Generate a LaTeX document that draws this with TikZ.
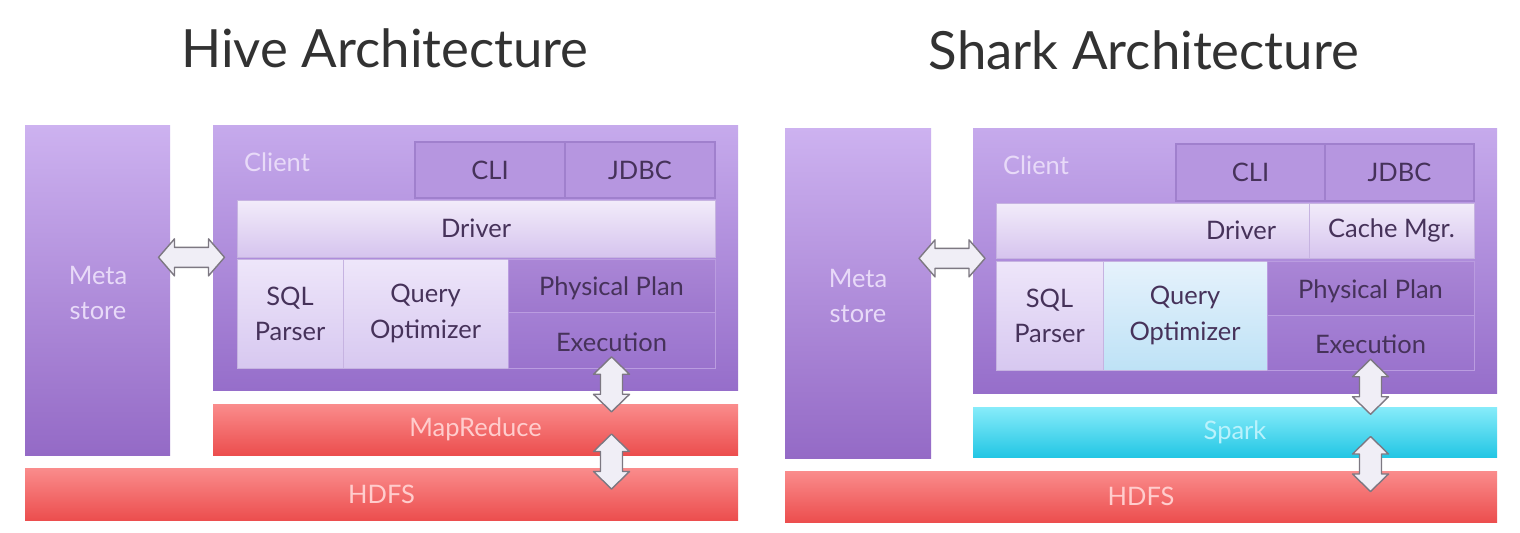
\documentclass[tikz,border=0pt]{standalone}
\usepackage{fontspec}
\setmainfont{Lato}
\usetikzlibrary{fit,shadings,calc}
\definecolor{cltop}{RGB}{198,170,236}
\definecolor{clbot}{RGB}{150,110,202}
\definecolor{mstop}{RGB}{205,178,240}
\definecolor{msbot}{RGB}{148,106,198}
\definecolor{clibox}{RGB}{182,150,224}
\definecolor{cliedge}{RGB}{160,128,205}
\definecolor{drtop}{RGB}{242,236,250}
\definecolor{drbot}{RGB}{214,196,238}
\definecolor{sqtop}{RGB}{238,230,250}
\definecolor{sqbot}{RGB}{215,200,240}
\definecolor{qotop}{RGB}{230,242,252}
\definecolor{qobot}{RGB}{190,226,246}
\definecolor{pptop}{RGB}{170,134,214}
\definecolor{ppbot}{RGB}{158,120,206}
\definecolor{ppedge}{RGB}{186,156,224}
\definecolor{rdtop}{RGB}{250,140,140}
\definecolor{rdbot}{RGB}{236,78,78}
\definecolor{cytop}{RGB}{135,236,250}
\definecolor{cybot}{RGB}{35,198,228}
\definecolor{txtdark}{RGB}{70,50,90}
\definecolor{txtlav}{RGB}{232,218,248}
\definecolor{txtpink}{RGB}{255,205,205}
\definecolor{txtcyan}{RGB}{185,242,252}
\definecolor{arfill}{RGB}{240,238,246}
\definecolor{aredge}{RGB}{125,120,130}
\definecolor{titlec}{RGB}{50,50,50}
\begin{document}
\begin{tikzpicture}[x=0.02cm,y=-0.02cm,
  blk/.style={inner sep=0pt, draw=none},
  lbl/.style={inner sep=0pt, align=center, text=txtdark,
    font=\fontsize{14.5}{20}\selectfont},
  lightlbl/.style={lbl, text=txtlav},
  pinklbl/.style={lbl, text=txtpink},
  cyanlbl/.style={lbl, text=txtcyan},
  metabox/.style={blk, top color=mstop, bottom color=msbot},
  clientbox/.style={blk, top color=cltop, bottom color=clbot},
  clibx/.style={blk, fill=clibox, draw=cliedge, line width=0.6pt},
  drvbox/.style={blk, top color=drtop, bottom color=drbot, draw=cliedge!60, line width=0.4pt},
  sqlbox/.style={blk, top color=sqtop, bottom color=sqbot, draw=cliedge!60, line width=0.4pt},
  qobox/.style={blk, top color=qotop, bottom color=qobot, draw=cliedge!60, line width=0.4pt},
  ppbox/.style={blk, top color=pptop, bottom color=ppbot, draw=ppedge, line width=0.5pt},
  exbox/.style={blk, fill=none, draw=ppedge, line width=0.5pt},
  redbox/.style={blk, top color=rdtop, bottom color=rdbot},
  cyanbox/.style={blk, top color=cytop, bottom color=cybot},
  blockarrow/.style={draw=aredge, fill=arfill, line width=0.8pt, line join=round},
  titlestyle/.style={text=titlec, font=\fontsize{30}{36}\selectfont, inner sep=0pt}
]
\useasboundingbox[fill=white] (0,0) rectangle (1520,532);

% ---------- Hive ----------
\node[titlestyle] (htitle) at (385,48) {Hive Architecture};
\node[metabox, fit={(25,125)(170,455)}] (hmeta) {};
\node[lightlbl] (hmetalbl) at (98,293) {Meta\\store};
\node[clientbox, fit={(213,125)(738,390)}] (hclient) {};
\node[lightlbl] (hclientlbl) at (277,162) {Client};
\node[clibx, fit={(415,142)(565,198)}] (hcli) {};
\node[lbl] at (hcli) {CLI};
\node[clibx, fit={(565,142)(715,198)}] (hjdbc) {};
\node[lbl] at (hjdbc) {JDBC};
\node[drvbox, fit={(237,200)(715,257)}] (hdriver) {};
\node[lbl] at (hdriver) {Driver};
\node[sqlbox, fit={(237,259)(343,368)}] (hsql) {};
\node[lbl] at (hsql) {SQL\\Parser};
\node[sqlbox, fit={(343,259)(508,368)}] (hqo) {};
\node[lbl] at (hqo) {Query\\Optimizer};
\node[ppbox, fit={(508,259)(715,312)}] (hpp) {};
\node[lbl] at ([yshift=-0.06cm]hpp.center) {Physical Plan};
\node[exbox, fit={(508,312)(715,368)}] (hexec) {};
\node[lbl] at ([yshift=-0.04cm]hexec.center) {Execution};
\node[redbox, fit={(213,404)(738,455)}] (hmr) {};
\node[pinklbl] at (hmr) {MapReduce};
\node[redbox, fit={(25,468)(738,520)}] (hhdfs) {};
\node[pinklbl] at (hhdfs) {HDFS};
\coordinate (harr1) at ($(hmeta.east |- hdriver.south)!0.5!(hclient.west |- hdriver.south)$);
\coordinate (harr2) at ($(hexec.south)!0.45!(hmr.north -| hexec.south)$);
\coordinate (harr3) at ($(hmr.south -| hexec.south)!0.5!(hhdfs.north -| hexec.south)$);

% ---------- Shark ----------
\node[titlestyle] (stitle) at (1144,50) {Shark Architecture};
\node[metabox, fit={(785,128)(931,458)}] (smeta) {};
\node[lightlbl] (smetalbl) at (858,296) {Meta\\store};
\node[clientbox, fit={(973,128)(1497,393)}] (sclient) {};
\node[lightlbl] (sclientlbl) at (1036,165) {Client};
\node[clibx, fit={(1176,144)(1325,201)}] (scli) {};
\node[lbl] at (scli) {CLI};
\node[clibx, fit={(1325,144)(1474,201)}] (sjdbc) {};
\node[lbl] at (sjdbc) {JDBC};
\node[drvbox, fit={(996,203)(1309,258)}] (sdriver) {};
\node[lbl, anchor=east] (sdriverlbl) at ([xshift=-0.66cm]sdriver.east) {Driver};
\node[drvbox, fit={(1309,203)(1474,258)}] (scache) {};
\node[lbl] at (scache) {Cache Mgr.};
\node[sqlbox, fit={(996,261)(1103,370)}] (ssql) {};
\node[lbl] at (ssql) {SQL\\Parser};
\node[qobox, fit={(1103,261)(1267,370)}] (sqo) {};
\node[lbl] at (sqo) {Query\\Optimizer};
\node[ppbox, fit={(1267,261)(1474,315)}] (spp) {};
\node[lbl] at ([yshift=-0.06cm]spp.center) {Physical Plan};
\node[exbox, fit={(1267,315)(1474,370)}] (sexec) {};
\node[lbl] at ([yshift=-0.04cm]sexec.center) {Execution};
\node[cyanbox, fit={(973,407)(1497,457)}] (sspark) {};
\node[cyanlbl] at (sspark) {Spark};
\node[redbox, fit={(785,471)(1497,522)}] (shdfs) {};
\node[pinklbl] at (shdfs) {HDFS};
\coordinate (sarr1) at ($(smeta.east |- sdriver.south)!0.5!(sclient.west |- sdriver.south)$);
\coordinate (sarr2) at ($(sexec.south)!0.45!(sspark.north -| sexec.south)$);
\coordinate (sarr3) at ($(sspark.south -| sexec.south)!0.5!(shdfs.north -| sexec.south)$);

% ---------- block arrows ----------
\foreach \c in {harr1,sarr1}{
  \draw[blockarrow, shift={(\c)}] (-33,0) -- (-17,-18.5) -- (-17,-10) -- (17,-10) -- (17,-18.5)
    -- (33,0) -- (17,18.5) -- (17,10) -- (-17,10) -- (-17,18.5) -- cycle;
}
\foreach \c in {harr2,harr3,sarr2,sarr3}{
  \draw[blockarrow, shift={(\c)}] (0,-27.5) -- (18,-10) -- (11,-10) -- (11,10) -- (18,10)
    -- (0,27.5) -- (-18,10) -- (-11,10) -- (-11,-10) -- (-18,-10) -- cycle;
}
\end{tikzpicture}
\end{document}
